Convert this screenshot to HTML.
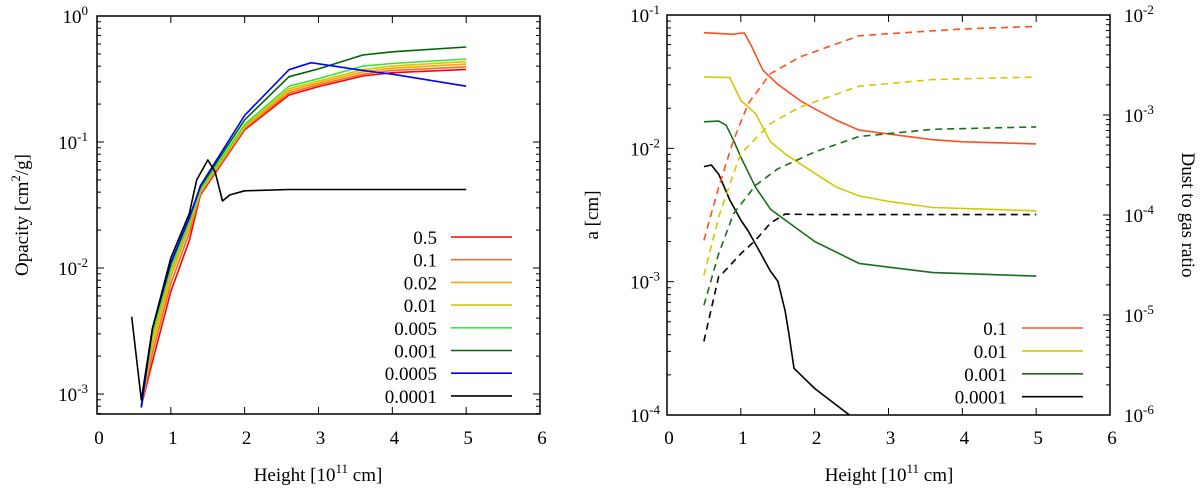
<!DOCTYPE html>
<html><head><meta charset="utf-8">
<style>
body{margin:0;background:#fff;}
svg{display:block;font-family:"Liberation Serif",serif;}
</style></head>
<body>
<svg id="chart" width="1200" height="488" viewBox="0 0 1200 488"></svg>
<script>
// ---------- LEFT CHART DATA ----------
const leftX = [0.6,0.75,1.0,1.25,1.4,2.0,2.6,3.0,3.6,4.0,5.0];
const blueX = [0.6,0.75,1.0,1.25,1.4,2.0,2.6,2.9,3.6,4.0,5.0];
const blackX = [0.47,0.6,0.75,1.0,1.25,1.35,1.5,1.6,1.7,1.8,2.0,2.6,5.0];
const op05 = [0.0008,0.0018,0.0065,0.0165,0.038,0.125,0.236,0.275,0.334,0.355,0.377];
const op01 = [0.0008,0.0021,0.0075,0.019,0.039,0.128,0.245,0.285,0.345,0.37,0.395];
const op002 = [0.0008,0.0024,0.0085,0.021,0.040,0.131,0.255,0.295,0.36,0.385,0.415];
const op001 = [0.0008,0.0027,0.0093,0.022,0.041,0.134,0.265,0.305,0.375,0.40,0.435];
const op0005 = [0.0008,0.003,0.0100,0.023,0.042,0.138,0.277,0.318,0.40,0.42,0.456];
const op0001 = [0.0008,0.0033,0.0108,0.025,0.044,0.150,0.33,0.38,0.49,0.52,0.567];
const op00005 = [0.00078,0.0033,0.011,0.025,0.045,0.163,0.375,0.426,0.37,0.345,0.277];
const op00001 = [0.0041,0.0009,0.0033,0.012,0.027,0.05,0.072,0.058,0.034,0.038,0.041,0.042,0.042];
const leftLabels = ["0.5","0.1","0.02","0.01","0.005","0.001","0.0005","0.0001"];
const xTicks = [0,1,2,3,4,5,6];
const leftYExp = [0,-1,-2,-3];
// ---------- RIGHT CHART DATA ----------
const aX01 = [0.5,0.9,1.0,1.05,1.15,1.3,1.5,1.8,2.0,2.3,2.6,3.0,3.6,4.0,5.0];
const a01 = [0.0737,0.0716,0.0733,0.073,0.0575,0.0385,0.0302,0.0229,0.0198,0.0162,0.0137,0.0128,0.0116,0.0112,0.0108];
const aX001 = [0.5,0.85,1.0,1.2,1.4,1.6,2.0,2.3,2.6,3.0,3.6,5.0];
const a001 = [0.0343,0.034,0.0229,0.0182,0.0112,0.0091,0.0065,0.0051,0.0044,0.0040,0.0036,0.0034];
const aX0001 = [0.5,0.7,0.8,0.9,1.0,1.2,1.4,1.6,2.0,2.6,3.6,5.0];
const a0001 = [0.0158,0.016,0.0149,0.0115,0.0086,0.0051,0.0035,0.0029,0.0020,0.00137,0.00117,0.0011];
const aX00001 = [0.5,0.6,0.7,0.85,1.0,1.1,1.25,1.4,1.5,1.6,1.65,1.72,2.0,2.47,2.6];
const a00001 = [0.0073,0.0075,0.0064,0.0041,0.0029,0.0024,0.0017,0.0012,0.00101,0.000606,0.00041,0.000224,0.000158,0.0001,0.00009];
const dX01 = [0.5,0.7,0.9,1.1,1.4,1.8,2.6,3.0,4.0,5.0];
const d01 = [5.58e-5,1.9e-4,5.58e-4,1.3e-3,2.59e-3,3.8e-3,6.2e-3,6.5e-3,7.25e-3,7.7e-3];
const dX001 = [0.5,0.7,0.9,1.0,1.4,1.8,2.6,3.6,5.0];
const d001 = [2.49e-5,9.55e-5,2.59e-4,4.1e-4,8.2e-4,1.2e-3,1.94e-3,2.26e-3,2.4e-3];
const dX0001 = [0.5,0.7,0.9,1.2,1.5,2.0,2.6,3.6,5.0];
const d0001 = [1.25e-5,4.1e-5,1.03e-4,1.98e-4,2.9e-4,4.27e-4,6.1e-4,7.2e-4,7.6e-4];
const dX00001 = [0.5,0.7,0.75,1.0,1.2,1.4,1.6,2.0,5.0];
const d00001 = [5.45e-6,2.44e-5,2.6e-5,4.1e-5,5.6e-5,8.3e-5,1.02e-4,1.01e-4,1.01e-4];
const rightLabels = ["0.1","0.01","0.001","0.0001"];
const rightYExp = [-1,-2,-3,-4];
const rightY2Exp = [-2,-3,-4,-5,-6];

const NS="http://www.w3.org/2000/svg";
const svg=document.getElementById('chart');
function mk(tag,attrs,parent){const e=document.createElementNS(NS,tag);for(const k in attrs)e.setAttribute(k,attrs[k]);(parent||svg).appendChild(e);return e;}
const FS=19, SFS=13;

const L={x0:97,x1:540,y0:16,y1:414};
const lx=v=>L.x0+(v/6)*(L.x1-L.x0);
const ly=v=>L.y0+(0-Math.log10(v))*126;
const R={x0:667,x1:1110,y0:15,y1:415};
const rx=v=>R.x0+(v/6)*(R.x1-R.x0);
const ry=v=>R.y0+(-1-Math.log10(v))*133.33;
const ry2=v=>R.y0+(-2-Math.log10(v))*100;

const defs=mk('defs',{});
const c1=mk('clipPath',{id:'clipL'},defs);mk('rect',{x:L.x0,y:L.y0,width:L.x1-L.x0,height:L.y1-L.y0},c1);
const c2=mk('clipPath',{id:'clipR'},defs);mk('rect',{x:R.x0,y:R.y0,width:R.x1-R.x0,height:R.y1-R.y0},c2);

function supLabel(x,y,base,exp,anchor,name,g){
  const t=mk('text',{x:x,y:y,'font-size':FS,'text-anchor':anchor},g);
  
  
  const a=mk('tspan',{},t);a.textContent=base;
  const b=mk('tspan',{dy:-8,'font-size':SFS},t);b.textContent=exp;
  return t;
}
function line(xs,ys,fx,fy,color,name,g,dash){
  const d=xs.map((x,i)=>(i?'L':'M')+fx(x).toFixed(1)+','+fy(ys[i]).toFixed(1)).join('');
  const p=mk('path',{d:d,fill:'none',stroke:color,'stroke-width':1.6,'stroke-linejoin':'round'},g);
  if(dash)p.setAttribute('stroke-dasharray','7,5');
  
  
}

// ---------- LEFT ----------
const gL=mk('g',{});


xTicks.forEach(t=>{
  const x=lx(t);
  mk('line',{x1:x,y1:L.y1,x2:x,y2:L.y1-7,stroke:'#000'},gL);
  mk('line',{x1:x,y1:L.y0,x2:x,y2:L.y0+7,stroke:'#000'},gL);
  const tx=mk('text',{x:x+2,y:444,'font-size':FS,'text-anchor':'middle'},gL);
  tx.textContent=t;
  
  
});
for(let e=-4;e<=0;e++){for(let m=1;m<10;m++){const v=m*Math.pow(10,e);const y=ly(v);if(y<L.y0-0.5||y>L.y1)continue;const len=m==1?7:4;
  mk('line',{x1:L.x0,y1:y,x2:L.x0+len,y2:y,stroke:'#000'},gL);
  mk('line',{x1:L.x1,y1:y,x2:L.x1-len,y2:y,stroke:'#000'},gL);}}
leftYExp.forEach(e=>supLabel(88,ly(Math.pow(10,e))+7,'10',e,'end','y-tick-label',gL));
const cg=mk('g',{'clip-path':'url(#clipL)'},gL);
const lcol=['#ff0000','#e8703a','#ffa500','#d4c800','#40e040','#006400','#0000ff','#000000'];
const lser=[[leftX,op05],[leftX,op01],[leftX,op002],[leftX,op001],[leftX,op0005],[leftX,op0001],[blueX,op00005],[blackX,op00001]];
lser.forEach((s,i)=>line(s[0],s[1],lx,ly,lcol[i],'opacity-line-'+leftLabels[i],cg));
mk('rect',{x:L.x0,y:L.y0,width:L.x1-L.x0,height:L.y1-L.y0,fill:'none',stroke:'#000','stroke-width':1.5},gL);
leftLabels.forEach((lab,i)=>{const y=237+i*22.7;
  const t=mk('text',{x:437,y:y+7,'font-size':FS,'text-anchor':'end'},gL);t.textContent=lab;
  
  
  const l=mk('line',{x1:451,y1:y,x2:512,y2:y,stroke:lcol[i],'stroke-width':1.6},gL);
  
  
});
</script>
<script>
(function(){
const t=mk('text',{x:318,y:481,'font-size':FS,'text-anchor':'middle'},svg);

t.innerHTML='Height [10<tspan dy="-8" font-size="13">11</tspan><tspan dy="8"> cm]</tspan>';
const y=mk('text',{x:0,y:0,'font-size':FS,'text-anchor':'middle',transform:'translate(28,215) rotate(-90)'},svg);

y.innerHTML='Opacity [cm<tspan dy="-8" font-size="13">2</tspan><tspan dy="8">/g]</tspan>';
})();

// ---------- RIGHT ----------
const gR=mk('g',{});


xTicks.forEach(t=>{
  const x=rx(t);
  mk('line',{x1:x,y1:R.y1,x2:x,y2:R.y1-7,stroke:'#000'},gR);
  mk('line',{x1:x,y1:R.y0,x2:x,y2:R.y0+7,stroke:'#000'},gR);
  const tx=mk('text',{x:x+2,y:444,'font-size':FS,'text-anchor':'middle'},gR);
  tx.textContent=t;
  
  
});
for(let e=-5;e<=-1;e++){for(let m=1;m<10;m++){const v=m*Math.pow(10,e);const y=ry(v);if(y<R.y0-0.5||y>R.y1+0.5)continue;const len=m==1?7:4;
  mk('line',{x1:R.x0,y1:y,x2:R.x0+len,y2:y,stroke:'#000'},gR);}}
for(let e=-7;e<=-2;e++){for(let m=1;m<10;m++){const v=m*Math.pow(10,e);const y=ry2(v);if(y<R.y0-0.5||y>R.y1+0.5)continue;const len=m==1?7:4;
  mk('line',{x1:R.x1,y1:y,x2:R.x1-len,y2:y,stroke:'#000'},gR);}}
rightYExp.forEach(e=>supLabel(660,ry(Math.pow(10,e))+7,'10',e,'end','y-tick-label',gR));
rightY2Exp.forEach(e=>supLabel(1124,ry2(Math.pow(10,e))+7,'10',e,'start','y2-tick-label',gR));
const cg2=mk('g',{'clip-path':'url(#clipR)'},gR);
const rcol=['#ff5020','#d4c800','#1a6e1a','#000000'];
const rs=[[aX01,a01],[aX001,a001],[aX0001,a0001],[aX00001,a00001]];
const rd=[[dX01,d01],[dX001,d001],[dX0001,d0001],[dX00001,d00001]];
rs.forEach((s,i)=>line(s[0],s[1],rx,ry,rcol[i],'size-line-'+rightLabels[i],cg2));
rd.forEach((s,i)=>line(s[0],s[1],rx,ry2,rcol[i],'dust-ratio-line-'+rightLabels[i],cg2,true));
mk('rect',{x:R.x0,y:R.y0,width:R.x1-R.x0,height:R.y1-R.y0,fill:'none',stroke:'#000','stroke-width':1.5},gR);
rightLabels.forEach((lab,i)=>{const y=328+i*22.9;
  const t=mk('text',{x:1007,y:y+7,'font-size':FS,'text-anchor':'end'},gR);t.textContent=lab;
  
  
  const l=mk('line',{x1:1022,y1:y,x2:1083,y2:y,stroke:rcol[i],'stroke-width':1.6},gR);
  
  
});
(function(){
const t=mk('text',{x:889,y:481,'font-size':FS,'text-anchor':'middle'},svg);

t.innerHTML='Height [10<tspan dy="-8" font-size="13">11</tspan><tspan dy="8"> cm]</tspan>';
const y=mk('text',{x:0,y:0,'font-size':FS,'text-anchor':'middle',transform:'translate(598,215) rotate(-90)'},svg);

y.textContent='a [cm]';
const y2=mk('text',{x:0,y:0,'font-size':FS,'text-anchor':'middle',transform:'translate(1182,215) rotate(90)'},svg);

y2.textContent='Dust to gas ratio';
})();
</script>
</body></html>
